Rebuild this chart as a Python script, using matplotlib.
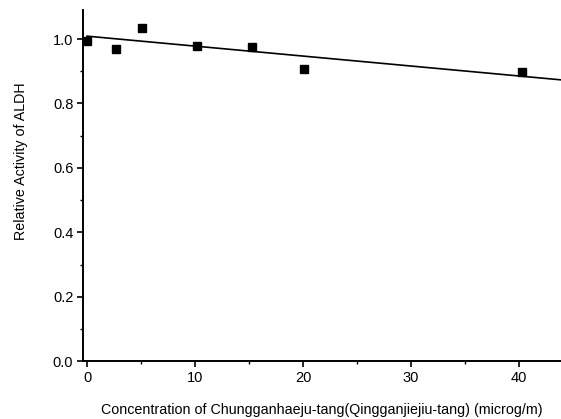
import matplotlib.pyplot as plt
from matplotlib.ticker import MultipleLocator

plt.rcParams['font.family'] = ['Liberation Sans', 'DejaVu Sans']

# measured points
conc = [0, 2.7, 5.1, 10.2, 15.3, 20.1, 40.3]
activity = [0.995, 0.969, 1.033, 0.977, 0.975, 0.908, 0.897]

# fitted line end points
fit_x = [0, 44]
fit_y = [1.009, 0.873]

fig = plt.figure(figsize=(5.61, 4.19), dpi=100)
ax = fig.add_axes([0.148, 0.138, 0.852, 0.838])

ax.plot(fit_x, fit_y, color='black', lw=1.2)
ax.plot(conc, activity, 's', color='black', ms=5.8, clip_on=False)

ax.set_xlim(-0.37, 43.9)
ax.set_ylim(0, 1.09)
ax.xaxis.set_major_locator(MultipleLocator(10))
ax.xaxis.set_minor_locator(MultipleLocator(5))
ax.yaxis.set_major_locator(MultipleLocator(0.2))
ax.yaxis.set_minor_locator(MultipleLocator(0.1))
ax.yaxis.set_major_formatter(plt.FormatStrFormatter('%.1f'))

for s in ['top', 'right']:
    ax.spines[s].set_visible(False)
for s in ['left', 'bottom']:
    ax.spines[s].set_linewidth(1.4)

ax.tick_params(which='major', direction='out', length=4, width=1.2, labelsize=10.5, pad=3)
ax.tick_params(which='minor', direction='out', length=2.5, width=1)

ax.set_xlabel('Concentration of Chungganhaeju-tang(Qingganjiejiu-tang) (microg/m)', fontsize=10.3, labelpad=13)
# y label sits a bit above the axis middle in the original
fig.text(21 / 561, 1 - 161.5 / 419, 'Relative Activity of ALDH', fontsize=10.3,
         rotation=90, ha='center', va='center')

fig.savefig('out.png', dpi=100)
